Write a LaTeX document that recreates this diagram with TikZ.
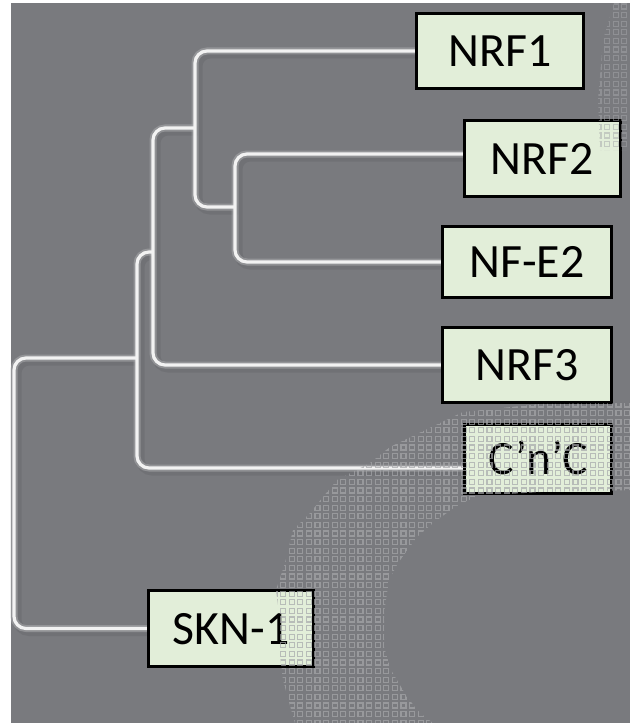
\documentclass[tikz,border=0pt]{standalone}
\usepackage{fontspec}
\setmainfont{Carlito}

\definecolor{panel}{HTML}{797A7E}
\definecolor{boxfill}{HTML}{E2EED9}
\definecolor{branch}{HTML}{F2F2F2}
\definecolor{halo}{HTML}{ABACAF}
\definecolor{shade}{HTML}{5C5D61}
\definecolor{dotc}{HTML}{A6A7AA}

\pgfdeclarelayer{ground}
\pgfdeclarelayer{tree}
\pgfdeclarelayer{dots}
\pgfsetlayers{ground,tree,main,dots}

\tikzset{
  taxon/.style={draw=black, line width=3bp, fill=boxfill, inner sep=0pt,
    font=\fontsize{48}{52}\selectfont, text height=31bp, text depth=0pt},
  twig/.style={line width=3.2bp, draw=branch, rounded corners=12bp},
  twighalo/.style={line width=7bp, draw=halo, rounded corners=12bp, opacity=0.55},
  twigshade/.style={line width=9bp, draw=shade, rounded corners=12bp, opacity=0.3},
  cell/.style={draw=dotc, line width=1.2bp, opacity=0.7},
  faintcell/.style={draw=dotc, line width=1.1bp, opacity=0.5},
}

% the tree's branches, drawn once per pass (shadow, halo, line)
\newcommand{\branchpaths}[1]{%
  \draw[#1] (nrf1.west) -| (ja) -- (jb);
  \draw[#1] ([yshift=4.5bp]nrf2.west) -| (jb) |- (nfe2.west);
  \draw[#1] (jd) -| (je) |- (nrf3.west);
  \draw[#1] (je) -| (jf) |- ([yshift=-9bp]cnc.west);
  \draw[#1] (jf) -| (jg) |- (skn.west);
}

\begin{document}
\begin{tikzpicture}[x=1bp,y=-1bp]
\useasboundingbox (0,0) rectangle (630,723);

\begin{pgfonlayer}{ground}
  \fill[white] (0,0) rectangle (630,723);
  \fill[panel] (11,3) rectangle (630,723);
\end{pgfonlayer}

% taxa
\node[taxon, minimum width=167bp, minimum height=75bp] (nrf1) at (500,51) {NRF1};
\node[taxon, minimum width=156bp, minimum height=76bp] (nrf2) at (542.5,158.5) {NRF2};
\node[taxon, minimum width=169bp, minimum height=71bp] (nfe2) at (527,262) {NF-E2};
\node[taxon, minimum width=169bp, minimum height=75bp] (nrf3) at (527,365) {NRF3};
\node[taxon, minimum width=147bp, minimum height=69bp] (cnc) at (538,459) {C’n’C\hspace{10bp}};
\node[taxon, minimum width=165bp, minimum height=76bp] (skn) at (231,628.5) {SKN-1\hspace{14bp}};

% branch points
\coordinate (ja) at (195,207);
\coordinate (jb) at (235,207);
\coordinate (jd) at (195,128);
\coordinate (je) at (153,252);
\coordinate (jf) at (137,358);
\coordinate (jg) at (14,500);

\begin{pgfonlayer}{tree}
  \begin{scope}[transform canvas={xshift=3bp,yshift=-3bp}]
    \branchpaths{twigshade}
  \end{scope}
  \branchpaths{twighalo}
  \branchpaths{twig}
\end{pgfonlayer}

% pixel ring in the lower right
\begin{pgfonlayer}{dots}
  \begin{scope}
    \clip (640,403) -- (540,404) -- (463,412) -- (440,423) -- (390,447)
      -- (370,463) -- (337,480) -- (323,497) -- (310,513) -- (293,530)
      -- (285,563) -- (276,590) -- (279,613) -- (279,647) -- (283,680)
      -- (292,713) -- (297,730) -- (442,730) -- (420,713) -- (407,697)
      -- (391,670) -- (384,647) -- (384,613) -- (389,580) -- (398,563)
      -- (417,537) -- (433,523) -- (455,507) -- (477,496) -- (540,492)
      -- (640,490) -- cycle;
    \foreach \i in {0,...,42} {
      \foreach \j in {0,...,38} {
        \draw[cell] ({272+8.6*\i},{402+8.6*\j}) rectangle ++(5,5);
      }
    }
  \end{scope}
  \begin{scope}
    \clip (614,3) -- (630,3) -- (630,150) -- (600,150) -- (598,100) -- (603,40) -- cycle;
    \foreach \i in {0,...,4} {
      \foreach \j in {0,...,17} {
        \draw[faintcell] ({596+8.6*\i},{4+8.6*\j}) rectangle ++(5,5);
      }
    }
  \end{scope}
\end{pgfonlayer}
\end{tikzpicture}
\end{document}
